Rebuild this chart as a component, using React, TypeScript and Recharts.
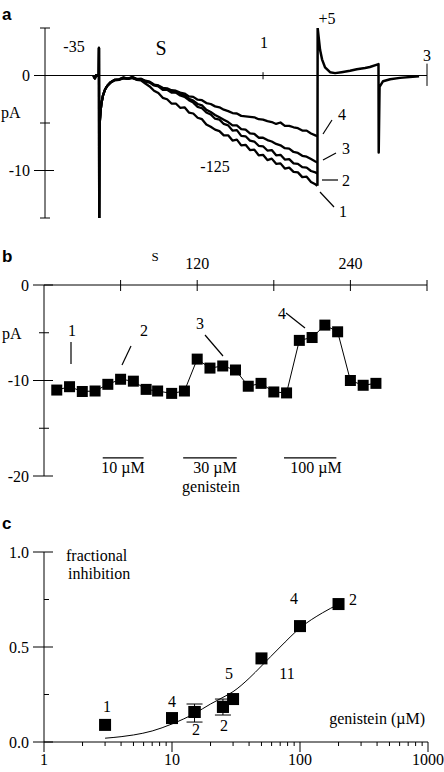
import React from 'react';
import { LineChart, ComposedChart, Line, XAxis, YAxis, ReferenceLine, Scatter, ErrorBar } from 'recharts';

const SERIF = '"Liberation Serif", "Times New Roman", serif';
const SANS = '"Liberation Sans", Arial, sans-serif';

// ---------- Panel a: current traces (s, pA) ----------
const onsetTime = [0.222, 0.229, 0.2335, 0.2465, 0.2475, 0.2485, 0.2495, 0.251, 0.2545, 0.259, 0.266, 0.275, 0.285];
const onsetCurrent = [-0.05, -0.3, 0, 0, 2.9, -15, -7.5, -5.0, -3.8, -2.9, -2.1, -1.5, -1.1];

const rampTime = [
  0.30, 0.32, 0.34, 0.36, 0.38, 0.40, 0.42, 0.44, 0.46, 0.48,
  0.50, 0.52, 0.54, 0.56, 0.58, 0.60, 0.62, 0.64, 0.66, 0.68,
  0.70, 0.72, 0.74, 0.76, 0.78, 0.80, 0.82, 0.84, 0.86, 0.88,
  0.90, 0.92, 0.94, 0.96, 0.98, 1.00, 1.02, 1.04, 1.06, 1.08,
  1.10, 1.12, 1.14, 1.16, 1.18, 1.20, 1.22, 1.24, 1.249,
];
const trace1 = [
  -0.75, -0.5, -0.45, -0.3, -0.35, -0.25, -0.45, -0.5, -0.85, -1.15,
  -1.6, -1.85, -2.35, -2.5, -2.95, -2.95, -3.4, -3.35, -3.9, -4.0,
  -4.45, -4.6, -5.15, -5.4, -5.7, -5.85, -6.3, -6.3, -6.85, -6.75,
  -7.35, -7.3, -7.85, -7.8, -8.4, -8.35, -8.9, -8.75, -9.3, -9.25,
  -9.8, -9.7, -10.15, -10.2, -10.7, -10.65, -11.2, -11.45, -11.6,
];
const trace2 = [
  -0.75, -0.45, -0.4, -0.25, -0.3, -0.25, -0.4, -0.4, -0.65, -0.75,
  -1.05, -1.15, -1.5, -1.5, -1.8, -1.8, -2.1, -2.25, -2.6, -2.85,
  -3.3, -3.45, -3.9, -4.1, -4.55, -4.65, -5.1, -5.25, -5.8, -5.75,
  -6.35, -6.4, -6.85, -6.95, -7.4, -7.45, -7.9, -7.85, -8.4, -8.35,
  -8.85, -8.8, -9.25, -9.3, -9.65, -9.7, -10.05, -10.2, -10.3,
];
const trace3 = [
  -0.75, -0.45, -0.45, -0.25, -0.35, -0.2, -0.4, -0.35, -0.6, -0.7,
  -1.0, -1.1, -1.4, -1.45, -1.7, -1.75, -1.95, -2.1, -2.45, -2.65,
  -3.0, -3.15, -3.6, -3.85, -4.15, -4.4, -4.65, -4.9, -5.25, -5.25,
  -5.65, -5.7, -6.1, -6.15, -6.55, -6.55, -6.8, -6.95, -7.2, -7.35,
  -7.65, -7.7, -8.05, -8.15, -8.45, -8.55, -8.8, -9.05, -9.15,
];
const trace4 = [
  -0.7, -0.45, -0.4, -0.2, -0.35, -0.15, -0.35, -0.35, -0.55, -0.65,
  -0.95, -1.05, -1.3, -1.35, -1.55, -1.6, -1.8, -1.9, -2.2, -2.25,
  -2.55, -2.6, -2.9, -3.0, -3.25, -3.35, -3.6, -3.75, -3.95, -4.0,
  -4.25, -4.3, -4.35, -4.4, -4.6, -4.65, -4.8, -4.9, -5.1, -4.95,
  -5.3, -5.3, -5.45, -5.55, -5.8, -5.8, -6.1, -6.3, -6.4,
];
const tailTime = [1.2495, 1.2505, 1.2615, 1.2706, 1.2844, 1.3073, 1.3303, 1.36, 1.399, 1.43, 1.468, 1.49, 1.523, 1.5295, 1.5305, 1.5344, 1.5505, 1.583, 1.628, 1.7156];
const tailCurrent = [-11.6, 5.0, 2.7, 1.7, 0.85, 0.35, 0.25, 0.35, 0.5, 0.65, 0.8, 0.9, 1.15, 1.2, -8.1, -1.2, -0.6, -0.4, -0.25, -0.07];

const aYTicks = [-15, -10, -5, 0, 5];
const aYLabels: Record<string, string> = { '-10': '-10', '0': '0' };
const aXTickMarks = [1, 1.752];

// ---------- Panel b: time course (s, pA) ----------
const bTime = [10, 20, 30, 40, 50, 60, 70, 80, 89, 100, 110, 120, 130, 140, 150, 160, 170, 180, 190, 200, 210, 220, 230, 240, 250, 260];
const bCurrent = [-11.0, -10.65, -11.15, -11.1, -10.4, -9.87, -10.07, -10.93, -11.1, -11.35, -11.1, -7.76, -8.7, -8.48, -8.9, -10.6, -10.3, -11.2, -11.3, -5.8, -5.5, -4.2, -4.9, -10.0, -10.5, -10.3];
const bXTicks = [0, 60, 120, 180, 240, 300];
const bXLabels: Record<string, string> = { '120': '120', '240': '240' };
const bYTicks = [-20, -15, -10, -5, 0];
const bYLabels: Record<string, string> = { '-20': '-20', '-10': '-10', '0': '0' };
const genisteinPeriods = [[46, 78], [109, 151], [188, 229]];
const genisteinLevel = -18.1;

// ---------- Panel c: concentration-response ----------
const cConc = [3, 10, 15, 25, 30, 50, 100, 200];
const cInhib = [0.09, 0.126, 0.158, 0.185, 0.226, 0.44, 0.61, 0.726];
const errConc = [15, 25];
const errInhib = [0.158, 0.185];
const errLow = [0.053, 0.043];
const errHigh = [0.042, 0.041];
const fitConc = [3, 4, 5, 7, 10, 15, 20, 25, 30, 40, 50, 70, 100, 150, 200];
const fitInhib = [0.02, 0.028, 0.037, 0.058, 0.095, 0.15, 0.2, 0.235, 0.265, 0.335, 0.4, 0.5, 0.6, 0.68, 0.725];
const cXTicks = [1, 2, 3, 4, 5, 6, 7, 8, 9, 10, 20, 30, 40, 50, 60, 70, 80, 90, 100, 200, 300, 400, 500, 600, 700, 800, 900, 1000];
const cXLabels: Record<string, string> = { '1': '1', '10': '10', '100': '100', '1000': '1000' };
const cYTicks = [0, 0.25, 0.5, 0.75, 1];
const cYLabels: Record<string, string> = { '0': '0.0', '0.5': '0.5', '1': '1.0' };

// ---------- built tables ----------
const withOnset = (vals: number[]) => [
  ...onsetTime.map((t, i) => ({ t, v: onsetCurrent[i] })),
  ...rampTime.map((t, i) => ({ t, v: vals[i] })),
];
const traces = [trace1, trace2, trace3, trace4].map(withOnset);
const tailData = tailTime.map((t, i) => ({ t, v: tailCurrent[i] }));
const bData = bTime.map((t, i) => ({ t, v: bCurrent[i] }));
const cData = cConc.map((x, i) => ({ x, y: cInhib[i] }));
const errData = errConc.map((x, i) => ({ x, y: errInhib[i], err: [errLow[i], errHigh[i]] }));
const fitData = fitConc.map((x, i) => ({ x, y: fitInhib[i] }));

const txt = { fontFamily: SERIF, fontSize: 16, fill: '#000' } as const;

const makeYTick = (labels: Record<string, string>, minorLeft = 5) => (props: any) => {
  const { x, y, payload } = props;
  const label = labels[String(payload.value)];
  const major = label !== undefined;
  return (
    <g>
      <line x1={x - (major ? 11 : minorLeft)} x2={x + (major ? 9 : 5)} y1={y} y2={y} stroke="#000" strokeWidth={1} />
      {major && (
        <text x={x - 15} y={y + 5.5} textAnchor="end" {...txt}>
          {label}
        </text>
      )}
    </g>
  );
};

const BXTick = (props: any) => {
  const { x, y, payload } = props;
  if (payload.value === 0) return <g />;
  const label = bXLabels[String(payload.value)];
  return (
    <g>
      <line x1={x} x2={x} y1={y - 5} y2={y + 6} stroke="#000" strokeWidth={1} />
      {label && (
        <text x={x} y={y - 16.5} textAnchor="middle" {...txt}>
          {label}
        </text>
      )}
    </g>
  );
};

const CXTick = (props: any) => {
  const { x, y, payload } = props;
  const label = cXLabels[String(payload.value)];
  const major = label !== undefined;
  return (
    <g>
      <line x1={x} x2={x} y1={y} y2={y + (major ? 10 : 4)} stroke="#000" strokeWidth={1} />
      {major && (
        <text x={x} y={y + 22.5} textAnchor="middle" {...txt}>
          {label}
        </text>
      )}
    </g>
  );
};

const SquareDot = (size: number) => (props: any) => {
  const { cx, cy, index } = props;
  if (cx == null || cy == null) return <g key={index} />;
  return <rect key={index} x={cx - size / 2} y={cy - size / 2} width={size} height={size} fill="#000" />;
};

const T = ({ x, y, children, anchor = 'middle', size = 16, family = SERIF, weight = 'normal' }: any) => (
  <text x={x} y={y + size * 0.34} textAnchor={anchor} fontFamily={family} fontSize={size} fontWeight={weight} fill="#000">
    {children}
  </text>
);
const L = ({ x1, y1, x2, y2 }: any) => <line x1={x1} y1={y1} x2={x2} y2={y2} stroke="#000" strokeWidth={1.2} />;

export default function App() {
  return (
    <div style={{ position: 'absolute', left: 0, top: 0, width: 444, height: 772, background: '#fff', overflow: 'hidden' }}>
      {/* Panel a */}
      <div style={{ position: 'absolute', left: 0, top: 0 }}>
        <LineChart width={444} height={240} margin={{ top: 28, right: 17, bottom: 22, left: 0 }}>
          <XAxis type="number" dataKey="t" domain={[0, 1.752]} hide allowDataOverflow />
          <YAxis
            type="number"
            domain={[-15, 5]}
            ticks={aYTicks}
            width={45}
            interval={0}
            tickSize={0}
            tickMargin={0}
            tickLine={false}
            axisLine={{ stroke: '#000', strokeWidth: 1 }}
            tick={makeYTick(aYLabels)}
            allowDataOverflow
          />
          <ReferenceLine y={0} stroke="#000" strokeWidth={1} />
          {aXTickMarks.map((t, i) => (
            <ReferenceLine
              key={'at' + i}
              segment={[{ x: t, y: i === 0 ? 0.35 : 1.25 }, { x: t, y: i === 0 ? -0.4 : -1.1 }]}
              stroke="#000"
              strokeWidth={1}
            />
          ))}
          {traces.map((d, i) => (
            <Line
              key={'tr' + i}
              data={d}
              dataKey="v"
              type="linear"
              stroke="#000"
              strokeWidth={2.3}
              dot={false}
              activeDot={false}
              isAnimationActive={false}
              strokeLinejoin="round"
            />
          ))}
          <Line
            data={tailData}
            dataKey="v"
            type="linear"
            stroke="#000"
            strokeWidth={2.5}
            dot={false}
            activeDot={false}
            isAnimationActive={false}
            strokeLinejoin="round"
          />
        </LineChart>
      </div>

      {/* Panel b */}
      <div style={{ position: 'absolute', left: 0, top: 240 }}>
        <LineChart width={444} height={260} margin={{ top: 15, right: 17, bottom: 24, left: 0 }}>
          <XAxis
            type="number"
            dataKey="t"
            orientation="top"
            domain={[0, 300]}
            ticks={bXTicks}
            interval={0}
            height={30}
            tickSize={0}
            tickMargin={0}
            tickLine={false}
            axisLine={{ stroke: '#000', strokeWidth: 1 }}
            tick={BXTick}
            allowDataOverflow
          />
          <YAxis
            type="number"
            domain={[-20, 0]}
            ticks={bYTicks}
            width={44}
            interval={0}
            tickSize={0}
            tickMargin={0}
            tickLine={false}
            axisLine={{ stroke: '#000', strokeWidth: 1 }}
            tick={makeYTick(bYLabels)}
            allowDataOverflow
          />
          {genisteinPeriods.map((p, i) => (
            <ReferenceLine
              key={'g' + i}
              segment={[{ x: p[0], y: genisteinLevel }, { x: p[1], y: genisteinLevel }]}
              stroke="#000"
              strokeWidth={1.2}
            />
          ))}
          <Line
            data={bData}
            dataKey="v"
            type="linear"
            stroke="#000"
            strokeWidth={1}
            dot={SquareDot(11)}
            activeDot={false}
            isAnimationActive={false}
          />
        </LineChart>
      </div>

      {/* Panel c */}
      <div style={{ position: 'absolute', left: 0, top: 500 }}>
        <ComposedChart width={444} height={272} margin={{ top: 52, right: 16, bottom: 0, left: 0 }}>
          <XAxis
            type="number"
            dataKey="x"
            scale="log"
            domain={[1, 1000]}
            ticks={cXTicks}
            interval={0}
            height={30}
            tickSize={0}
            tickMargin={0}
            tickLine={false}
            axisLine={{ stroke: '#000', strokeWidth: 1 }}
            tick={CXTick}
            allowDataOverflow
          />
          <YAxis
            type="number"
            dataKey="y"
            domain={[0, 1]}
            ticks={cYTicks}
            width={44}
            interval={0}
            tickSize={0}
            tickMargin={0}
            tickLine={false}
            axisLine={{ stroke: '#000', strokeWidth: 1 }}
            tick={makeYTick(cYLabels, 0)}
            allowDataOverflow
          />
          <Line
            data={fitData}
            dataKey="y"
            type="monotone"
            stroke="#000"
            strokeWidth={1}
            dot={false}
            activeDot={false}
            isAnimationActive={false}
          />
          <Scatter data={errData} dataKey="y" fill="#000" isAnimationActive={false} shape={SquareDot(12)}>
            <ErrorBar dataKey="err" direction="y" width={8} stroke="#000" strokeWidth={1} />
          </Scatter>
          <Scatter data={cData} dataKey="y" fill="#000" isAnimationActive={false} shape={SquareDot(12)} />
        </ComposedChart>
      </div>

      {/* Annotation overlay */}
      <svg width={444} height={772} style={{ position: 'absolute', left: 0, top: 0, pointerEvents: 'none' }}>
        {/* panel a */}
        <T x={2} y={14} anchor="start" family={SANS} weight="bold" size={17}>a</T>
        <T x={74} y={47}>-35</T>
        <T x={161} y={48} size={20}>S</T>
        <T x={264} y={43}>1</T>
        <T x={327} y={19}>+5</T>
        <T x={427} y={56}>3</T>
        <T x={1} y={113} anchor="start">pA</T>
        <T x={215} y={167}>-125</T>
        <T x={342} y={115}>4</T>
        <L x1={323} y1={134} x2={332} y2={120} />
        <T x={346} y={149}>3</T>
        <L x1={323} y1={160} x2={336} y2={153} />
        <T x={346} y={181}>2</T>
        <L x1={322} y1={180} x2={338} y2={180} />
        <T x={343} y={212}>1</T>
        <L x1={320} y1={192} x2={334} y2={207} />

        {/* panel b */}
        <T x={2} y={256} anchor="start" family={SANS} weight="bold" size={17}>b</T>
        <T x={155} y={257} size={13}>S</T>
        <T x={2} y={334} anchor="start">pA</T>
        <T x={72} y={331}>1</T>
        <L x1={71} y1={342} x2={71} y2={364} />
        <T x={144} y={331}>2</T>
        <L x1={131} y1={346} x2={122} y2={365} />
        <T x={200} y={324}>3</T>
        <L x1={205} y1={335} x2={223} y2={356} />
        <T x={282} y={314}>4</T>
        <L x1={286} y1={313} x2={305} y2={328} />
        <T x={123} y={468}>10 µM</T>
        <T x={215} y={468}>30 µM</T>
        <T x={316} y={468}>100 µM</T>
        <T x={211} y={487}>genistein</T>

        {/* panel c */}
        <T x={2} y={523} anchor="start" family={SANS} weight="bold" size={17}>c</T>
        <T x={66} y={556} anchor="start">fractional</T>
        <T x={68} y={574} anchor="start">inhibition</T>
        <T x={425} y={719} anchor="end">genistein (µM)</T>
        <T x={107} y={707}>1</T>
        <T x={172} y={702}>4</T>
        <T x={196} y={730}>2</T>
        <T x={224} y={726}>2</T>
        <T x={229} y={674}>5</T>
        <T x={287} y={674}>11</T>
        <T x={294} y={599}>4</T>
        <T x={353} y={600}>2</T>
      </svg>
    </div>
  );
}
